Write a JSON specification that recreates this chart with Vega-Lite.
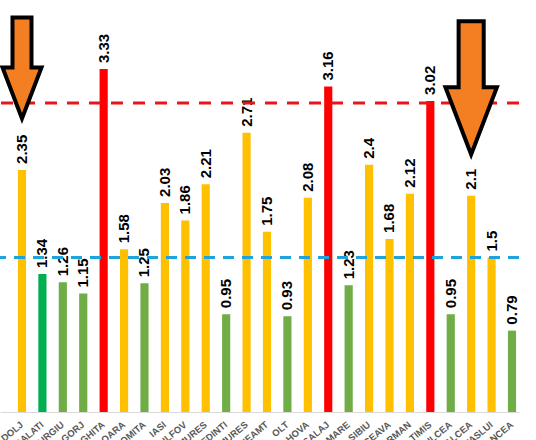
{
  "$schema": "https://vega.github.io/schema/vega-lite/v6.json",
  "width": 519,
  "height": 412,
  "autosize": {"type": "none"},
  "padding": {"left": 0, "top": 0, "right": 17, "bottom": 28},
  "datasets": {
    "counties": [
      {"county": "DOLJ", "value": 2.35, "tier": "mid"},
      {"county": "GALATI", "value": 1.34, "tier": "ref"},
      {"county": "GIURGIU", "value": 1.26, "tier": "low"},
      {"county": "GORJ", "value": 1.15, "tier": "low"},
      {"county": "HARGHITA", "value": 3.33, "tier": "high"},
      {"county": "HUNEDOARA", "value": 1.58, "tier": "mid"},
      {"county": "IALOMITA", "value": 1.25, "tier": "low"},
      {"county": "IASI", "value": 2.03, "tier": "mid"},
      {"county": "ILFOV", "value": 1.86, "tier": "mid"},
      {"county": "MARAMURES", "value": 2.21, "tier": "mid"},
      {"county": "MEHEDINTI", "value": 0.95, "tier": "low"},
      {"county": "MURES", "value": 2.71, "tier": "mid"},
      {"county": "NEAMT", "value": 1.75, "tier": "mid"},
      {"county": "OLT", "value": 0.93, "tier": "low"},
      {"county": "PRAHOVA", "value": 2.08, "tier": "mid"},
      {"county": "SALAJ", "value": 3.16, "tier": "high"},
      {"county": "SATU MARE", "value": 1.23, "tier": "low"},
      {"county": "SIBIU", "value": 2.4, "tier": "mid"},
      {"county": "SUCEAVA", "value": 1.68, "tier": "mid"},
      {"county": "TELEORMAN", "value": 2.12, "tier": "mid"},
      {"county": "TIMIS", "value": 3.02, "tier": "high"},
      {"county": "TULCEA", "value": 0.95, "tier": "low"},
      {"county": "VALCEA", "value": 2.1, "tier": "mid"},
      {"county": "VASLUI", "value": 1.5, "tier": "mid"},
      {"county": "VRANCEA", "value": 0.79, "tier": "low"}
    ],
    "thresholds": [
      {"line": "upper", "level": 3.0},
      {"line": "lower", "level": 1.5}
    ],
    "arrows": [
      {"county": "DOLJ", "tip": 2.85},
      {"county": "VALCEA", "tip": 2.5}
    ]
  },
  "encoding": {
    "x": {
      "field": "county",
      "type": "nominal",
      "sort": null,
      "scale": {"paddingInner": 0.6, "paddingOuter": 0.51, "align": 0.86},
      "axis": {
        "title": null,
        "ticks": false,
        "domainColor": "#d9d9d9",
        "domainWidth": 1,
        "labelAngle": -40,
        "labelAlign": "right",
        "labelBaseline": "middle",
        "labelPadding": 11,
        "labelFont": "Liberation Sans",
        "labelFontWeight": "bold",
        "labelFontSize": 9.5,
        "labelColor": "#595959"
      }
    }
  },
  "layer": [
    {
      "data": {"name": "counties"},
      "mark": {"type": "bar"},
      "encoding": {
        "y": {
          "field": "value",
          "type": "quantitative",
          "scale": {"domain": [0, 4], "nice": false, "zero": true},
          "axis": null
        },
        "color": {
          "field": "tier",
          "type": "nominal",
          "scale": {
            "domain": ["low", "ref", "mid", "high"],
            "range": ["#70ad47", "#00b050", "#ffc000", "#ff0000"]
          },
          "legend": null
        }
      }
    },
    {
      "data": {"name": "counties"},
      "mark": {
        "type": "text",
        "angle": 270,
        "align": "left",
        "baseline": "middle",
        "dx": 6,
        "font": "Liberation Sans",
        "fontWeight": "bold",
        "fontSize": 15,
        "color": "#000000"
      },
      "encoding": {
        "y": {"field": "value", "type": "quantitative"},
        "text": {"field": "value", "type": "quantitative", "format": ""}
      }
    },
    {
      "data": {"name": "thresholds"},
      "transform": [{"filter": "datum.line === 'upper'"}],
      "mark": {"type": "rule", "color": "#e8151b", "strokeWidth": 3, "strokeDash": [12, 10]},
      "encoding": {
        "x": null,
        "y": {"field": "level", "type": "quantitative"}
      }
    },
    {
      "data": {"name": "thresholds"},
      "transform": [{"filter": "datum.line === 'lower'"}],
      "mark": {"type": "rule", "color": "#1fa3dc", "strokeWidth": 3, "strokeDash": [11, 8]},
      "encoding": {
        "x": null,
        "y": {"field": "level", "type": "quantitative"}
      }
    },
    {
      "data": {"name": "arrows"},
      "transform": [{"filter": "datum.county === 'DOLJ'"}],
      "mark": {
        "type": "point",
        "shape": "M0,0L-0.39,-1.02L-0.19,-1.02L-0.19,-2.02L0.19,-2.02L0.19,-1.02L0.39,-1.02Z",
        "filled": true,
        "fill": "#f47f22",
        "fillOpacity": 1,
        "stroke": "#000000",
        "strokeWidth": 4,
        "strokeJoin": "miter",
        "size": 10000,
        "opacity": 1
      },
      "encoding": {
        "y": {"field": "tip", "type": "quantitative"}
      }
    },
    {
      "data": {"name": "arrows"},
      "transform": [{"filter": "datum.county === 'VALCEA'"}],
      "mark": {
        "type": "point",
        "shape": "M0,0L-0.39,-1.02L-0.19,-1.02L-0.19,-2.02L0.19,-2.02L0.19,-1.02L0.39,-1.02Z",
        "filled": true,
        "fill": "#f47f22",
        "fillOpacity": 1,
        "stroke": "#000000",
        "strokeWidth": 4,
        "strokeJoin": "miter",
        "size": 17424,
        "opacity": 1
      },
      "encoding": {
        "y": {"field": "tip", "type": "quantitative"}
      }
    }
  ],
  "config": {
    "view": {"stroke": null},
    "font": "Liberation Sans"
  }
}
